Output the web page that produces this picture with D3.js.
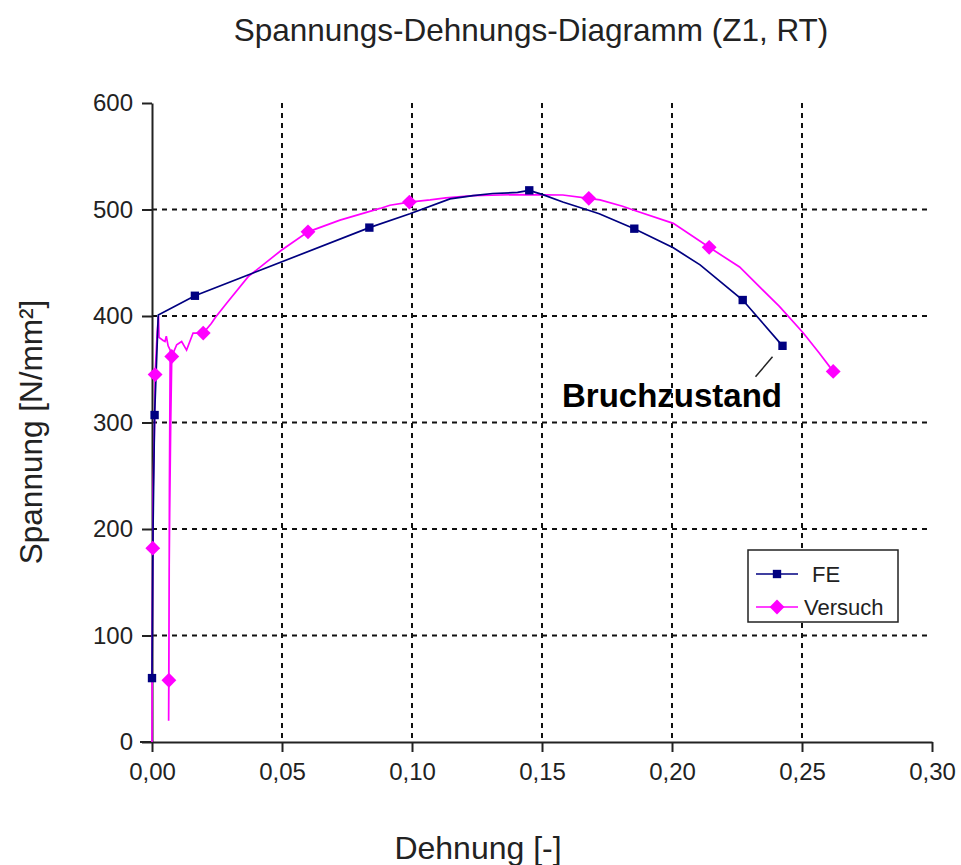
<!DOCTYPE html>
<html>
<head>
<meta charset="utf-8">
<script src="https://cdn.jsdelivr.net/npm/d3@7"></script>
<style>
  body { margin: 0; background: #fff; }
  svg { font-family: "Liberation Sans", Arial, sans-serif; }
</style>
</head>
<body>
<div id="chart"></div>
<script>
const WIDTH = 961
const HEIGHT = 865

const MARGIN = { TOP: 103, BOTTOM: 123, LEFT: 152, RIGHT: 29 }

// FE-Rechnung
const feStrain = [0.0000, 0.0004, 0.0010, 0.0024, 0.0165, 0.0836, 0.0992, 0.1146, 0.1235, 0.1310,
    0.1406, 0.1451, 0.1503, 0.1580, 0.1670, 0.1720, 0.1855, 0.2005, 0.2108, 0.2272, 0.2425]
const feStress = [60, 200, 307, 401, 419, 483, 496, 510, 513, 515,
    516, 518, 514, 507, 500, 496, 482, 464, 448, 415, 372]
const feMarked = [0, 2, 4, 5, 11, 16, 19, 20]

// Versuch
const vsStrain = [0.0000, 0.0001, 0.0003, 0.0004, 0.0010, 0.0012, 0.0020, 0.0025, 0.0027, 0.0043,
    0.0050, 0.0055, 0.0062, 0.0070, 0.0067, 0.0065, 0.0064, 0.0066, 0.0068, 0.0072,
    0.0076, 0.0095, 0.0114, 0.0133, 0.0158, 0.0197, 0.0228, 0.0245, 0.0287, 0.0370,
    0.0499, 0.0600, 0.0723, 0.0877, 0.0915, 0.0990, 0.1070, 0.1130, 0.1236, 0.1400,
    0.1580, 0.1680, 0.1723, 0.1810, 0.1851, 0.2005, 0.2143, 0.2260, 0.2413, 0.2505,
    0.2567, 0.2620]
const vsStress = [0, 100, 182, 234, 300, 345, 385, 400, 380, 377,
    376, 381, 372, 368, 240, 58, 20, 160, 216, 300,
    362, 373, 376, 368, 384, 384, 393, 399, 412, 437,
    462, 479, 490, 501, 504, 507, 509, 511, 513, 514,
    513.6, 510.5, 509, 503, 499.5, 487, 464.5, 446, 409, 384,
    365, 348]
const vsMarked = [2, 5, 15, 20, 25, 31, 35, 41, 46, 51]

const xTicks = [0, 0.05, 0.10, 0.15, 0.20, 0.25, 0.30]
const yTicks = [0, 100, 200, 300, 400, 500, 600]

const FE_COLOR = "#000080"
const VS_COLOR = "#ff00ff"

const svg = d3.select("#chart")
    .append("svg")
    .attr("width", WIDTH)
    .attr("height", HEIGHT)

const x = d3.scaleLinear().domain([0, 0.3]).range([MARGIN.LEFT, WIDTH - MARGIN.RIGHT])
const y = d3.scaleLinear().domain([0, 600]).range([HEIGHT - MARGIN.BOTTOM, MARGIN.TOP])

const fmt = d => d3.format(".2f")(d).replace(".", ",")

// grid
svg.append("g")
    .attr("stroke", "#111")
    .attr("stroke-width", 2)
    .attr("stroke-dasharray", "5,5")
    .call(g => g.selectAll("line.h")
        .data(yTicks.slice(1, -1))
        .join("line")
        .attr("class", "h")
        .attr("x1", x(0)).attr("x2", x(0.3))
        .attr("y1", d => y(d)).attr("y2", d => y(d)))
    .call(g => g.selectAll("line.v")
        .data(xTicks.slice(1, -1))
        .join("line")
        .attr("class", "v")
        .attr("x1", d => x(d)).attr("x2", d => x(d))
        .attr("y1", y(600)).attr("y2", y(0)))

// axes
const xAxis = svg.append("g")
    .attr("transform", `translate(0, ${y(0)})`)
    .call(d3.axisBottom(x).tickValues(xTicks).tickFormat(fmt).tickSize(10).tickSizeOuter(0))

const yAxis = svg.append("g")
    .attr("transform", `translate(${x(0)}, 0)`)
    .call(d3.axisLeft(y).tickValues(yTicks).tickSize(10).tickSizeOuter(0))

for (const ax of [xAxis, yAxis]) {
    ax.select(".domain").attr("stroke", "#222").attr("stroke-width", 2)
    ax.selectAll(".tick line").attr("stroke", "#222").attr("stroke-width", 2)
    ax.selectAll("text")
        .attr("font-family", "'Liberation Sans', Arial, sans-serif")
        .attr("font-size", 24)
        .attr("fill", "#222")
}
xAxis.selectAll("text").attr("dy", "0.95em").attr("y", 15)
yAxis.selectAll("text").attr("x", -19)
// x-Achse etwas nach links verlaengern
svg.append("line")
    .attr("x1", x(0) - 12).attr("x2", x(0))
    .attr("y1", y(0)).attr("y2", y(0))
    .attr("stroke", "#222").attr("stroke-width", 2)

// curves
const line = d3.line()
    .x(d => x(d[0]))
    .y(d => y(d[1]))

const feData = feStrain.map((s, i) => [s, feStress[i]])
const vsData = vsStrain.map((s, i) => [s, vsStress[i]])

svg.append("path")
    .datum(vsData)
    .attr("fill", "none")
    .attr("stroke", VS_COLOR)
    .attr("stroke-width", 1.7)
    .attr("d", line)

svg.append("path")
    .datum(feData)
    .attr("fill", "none")
    .attr("stroke", FE_COLOR)
    .attr("stroke-width", 1.7)
    .attr("d", line)

const diamond = d3.symbol().type(d3.symbolDiamond2).size(140)
const square = d3.symbol().type(d3.symbolSquare).size(70)

svg.append("g")
    .selectAll("path")
    .data(vsMarked.map(i => vsData[i]))
    .join("path")
    .attr("transform", d => `translate(${x(d[0])}, ${y(d[1])})`)
    .attr("d", diamond)
    .attr("fill", VS_COLOR)

svg.append("g")
    .selectAll("path")
    .data(feMarked.map(i => feData[i]))
    .join("path")
    .attr("transform", d => `translate(${x(d[0])}, ${y(d[1])})`)
    .attr("d", square)
    .attr("fill", FE_COLOR)

// annotation
const last = feData[feData.length - 1]
svg.append("line")
    .attr("x1", x(last[0]) - 10).attr("y1", y(last[1]) + 11)
    .attr("x2", x(last[0]) - 27).attr("y2", y(last[1]) + 31)
    .attr("stroke", "#222")
    .attr("stroke-width", 1.5)

svg.append("text")
    .attr("x", 562)
    .attr("y", 407)
    .attr("font-size", 33)
    .attr("font-weight", "bold")
    .attr("fill", "#000")
    .text("Bruchzustand")

// legend
const legend = svg.append("g").attr("transform", "translate(748, 550)")
legend.append("rect")
    .attr("width", 150).attr("height", 72)
    .attr("fill", "#fff")
    .attr("stroke", "#222")
    .attr("stroke-width", 1.5)

const legendItems = [
    { name: "FE", color: FE_COLOR, sym: square, ty: 24, tx: 64 },
    { name: "Versuch", color: VS_COLOR, sym: diamond, ty: 57, tx: 56 }
]
legendItems.forEach(it => {
    legend.append("line")
        .attr("x1", 8).attr("x2", 50)
        .attr("y1", it.ty).attr("y2", it.ty)
        .attr("stroke", it.color).attr("stroke-width", 1.7)
    legend.append("path")
        .attr("transform", `translate(29, ${it.ty})`)
        .attr("d", it.sym)
        .attr("fill", it.color)
    legend.append("text")
        .attr("x", it.tx).attr("y", it.ty)
        .attr("dy", "0.35em")
        .attr("font-size", 22)
        .attr("fill", "#222")
        .text(it.name)
})

// titles
svg.append("text")
    .attr("x", 531).attr("y", 41)
    .attr("text-anchor", "middle")
    .attr("font-size", 31.5)
    .attr("fill", "#222")
    .text("Spannungs-Dehnungs-Diagramm (Z1, RT)")

svg.append("text")
    .attr("x", 478).attr("y", 859)
    .attr("text-anchor", "middle")
    .attr("font-size", 32)
    .attr("fill", "#222")
    .text("Dehnung [-]")

svg.append("text")
    .attr("transform", "translate(42, 432) rotate(-90)")
    .attr("text-anchor", "middle")
    .attr("font-size", 31.5)
    .attr("fill", "#222")
    .text("Spannung [N/mm²]")
</script>
</body>
</html>
